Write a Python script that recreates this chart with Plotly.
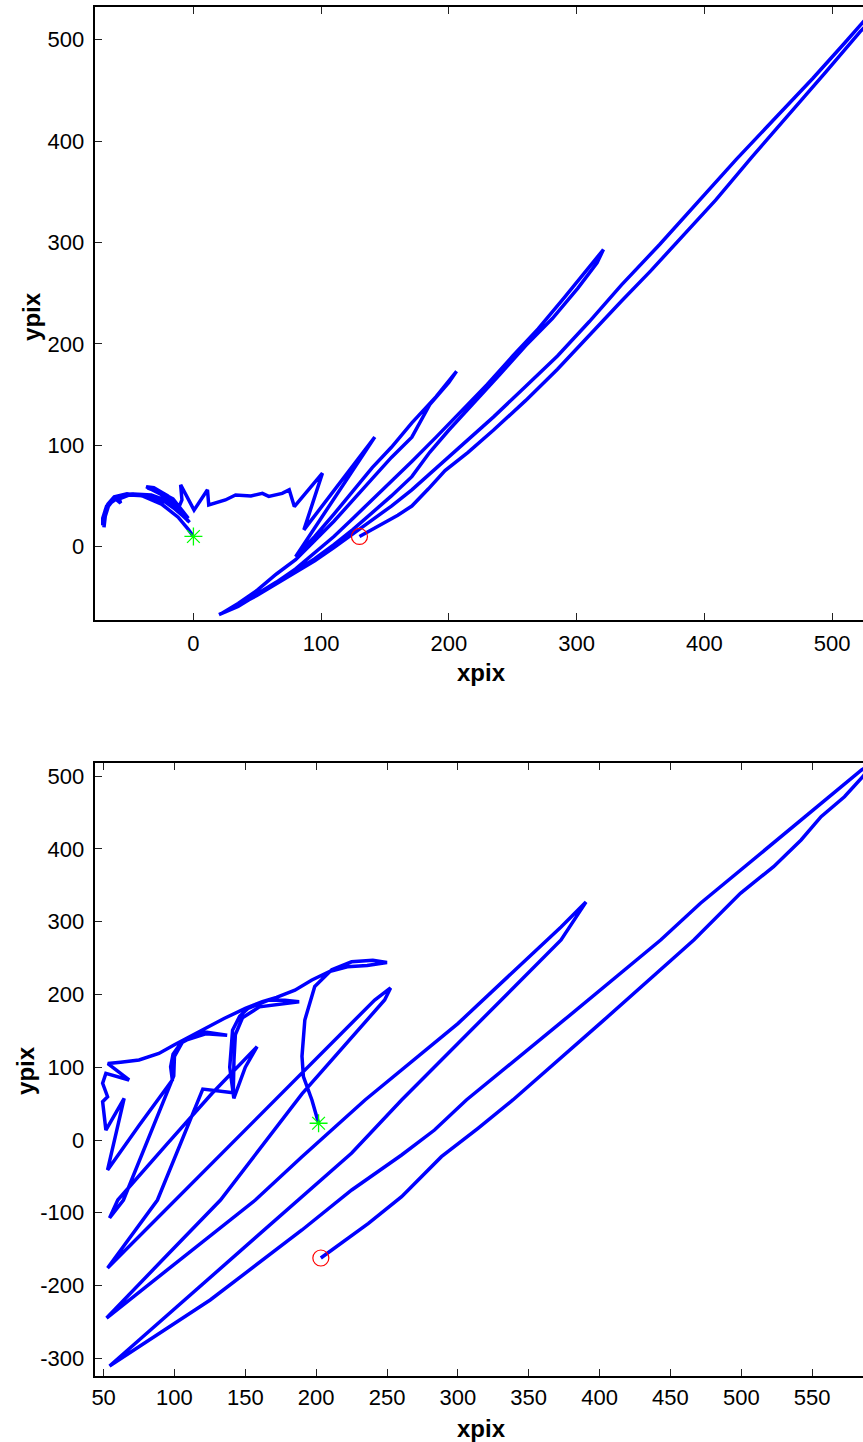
import plotly.graph_objects as go

# ---------------- upper panel: tracked position (pixels) ----------------
top_x = [0, -4, -12, -25, -40, -52, -62, -67, -70, -70, -69, -66, -58, -47, -33, -20, -10, -4,
         -10, -22, -36, -50, -58, -57, -62, -68, -71, -71, -69, -62, -50, -35, -20, -8, -3,
         -14, -26, -37, -31, -20, -9, -4, -16, -28, -36, -22, -11, -9, -10, 0.5, 11, 12, 25, 33,
         45, 54, 59, 69.5, 75, 79, 101, 86.5, 142, 80,
         95, 110, 125, 140, 155, 171, 190, 206,
         200, 185, 171, 155, 140, 125, 110, 95, 80, 65, 50, 35, 22,
         35, 50, 65, 80, 95, 110, 125, 140, 155, 171, 190, 210, 230, 250, 270, 290, 309, 321,
         316, 301, 281, 260, 240, 220, 200, 185, 171, 155, 140, 125, 110, 95, 80, 65, 50, 35, 20,
         35, 50, 65, 80, 95, 110, 125, 140, 155, 171, 189, 210, 235, 260, 285, 310, 335, 365, 396,
         425, 455, 485, 510, 530, 540,
         535, 522, 495, 465, 437, 409, 380, 358, 335, 310, 285, 260, 235, 215, 197, 184, 171, 160,
         150, 140, 130]
top_y = [10, 17, 29, 42, 50, 52, 49, 42, 30, 19, 30, 42, 49, 52, 51, 45, 33, 25,
         33, 44, 50, 51, 47, 43, 48, 40, 28, 21, 36, 47, 51, 50, 43, 30, 24,
         40, 52, 59, 58, 50, 36, 28, 47, 55, 58, 51, 40, 46, 61, 36, 56, 41, 46, 51,
         50, 52.5, 49.5, 52.5, 56, 39.5, 72.5, 16.5, 108, -10,
         10, 32, 55, 78, 98, 122, 148, 173,
         162, 140, 108, 88, 67, 46, 25, 6, -13, -27, -43, -56, -66,
         -58, -47, -35, -22, -6, 10, 28, 46, 65, 84, 108, 134, 160, 188, 215, 245, 275, 293,
         280, 255, 225, 198, 170, 143, 115, 93, 69, 50, 33, 17, 2, -12, -24, -36, -48, -59, -67,
         -58, -48, -37, -26, -14, -1, 13, 26, 40, 56, 76, 100, 128, 158, 188, 222, 258, 298, 342,
         382, 422, 462, 497, 525, 540,
         525, 508, 468, 425, 384, 342, 302, 272, 242, 208, 175, 144, 115, 93, 75, 57, 40, 31,
         24, 17, 10]

# ---------------- lower panel: tracked position (pixels) ----------------
bot_x = [201.7, 197, 191, 190, 192, 199, 211, 225, 240, 250,
         236, 222, 210, 197, 185, 172, 162, 150, 135, 125, 113, 100, 89, 75, 62, 53,
         68, 51.6, 49.3, 52.8, 49.3, 51.6, 64.5, 52.8,
         75, 98.5, 97.3, 99, 104.4, 119.6, 137.2, 122, 106, 100, 99.5,
         64, 54.2,
         60, 95, 126.6, 158.3,
         150, 141.9, 139, 140, 141, 146, 152, 166, 178, 188,
         175, 160, 148, 143, 142, 141.5,
         120, 88, 52.8,
         98.5, 147.7, 197, 241.3, 252.5,
         248.3, 190, 132.5, 91.5, 52.1,
         157.1, 190, 234.5, 300, 372.8, 390.4,
         372.8, 260.3, 225.1, 190, 147.8, 107, 54.2,
         125.2, 190, 225.1, 260.3, 283.5, 306, 375, 443.1, 471.2, 499.4, 525.2, 550.9, 584.9, 595,
         585.7, 572.8, 556.3, 542.2, 522.8, 499.4, 466.5, 402, 338.8, 314.2, 288.4, 260.3, 236.9,
         203.3]
bot_y = [23, 55, 87, 115, 165, 211, 234, 245, 247, 244,
         240, 238, 232, 220, 206, 196, 190, 181, 167, 157, 144, 131, 119, 110, 107, 105,
         82.5, 91.6, 78, 59.5, 52.6, 13.7, 57.3, -41.2,
         20, 82.5, 100.7, 118, 133, 149, 144, 146, 136, 115, 88,
         -82.5, -107.2,
         -82.5, -5, 64.2, 128.3,
         100, 57.3, 100, 125, 151, 170, 181, 192, 192, 190,
         187, 183, 168, 145, 110, 65,
         70, -82.5, -176,
         -86.6, 9.6, 105.8, 192.4, 209,
         192.4, 63.4, -82.5, -165, -244.7,
         -82.5, -23, 55, 160, 292.8, 327,
         274.9, 55, -17.9, -78, -151, -220, -310.6,
         -219.9, -123.7, -68.7, -20.6, 13.7, 55, 165, 274.9, 325.4, 371.1, 412.4, 453.6, 508.6, 522,
         499.3, 471.8, 444.4, 412.4, 375.7, 339.1, 274.9, 163, 55, 16.1, -22.9, -77.9, -114.5,
         -162.2]

# axis settings
top_xrange = [-77.3, 524.2]
top_yrange = [-72.4, 532.3]
top_xticks = [0, 100, 200, 300, 400, 500]
top_yticks = [0, 100, 200, 300, 400, 500]
bot_xrange = [43.7, 585.9]
bot_yrange = [-324.4, 518.2]
bot_xticks = [50, 100, 150, 200, 250, 300, 350, 400, 450, 500, 550]
bot_yticks = [-300, -200, -100, 0, 100, 200, 300, 400, 500]

W, H = 863, 1442
BLUE = '#0000FF'
FONT = 'Liberation Sans, Arial, sans-serif'

fig = go.Figure()


def add_panel(xs, ys, xa, ya):
    fig.add_trace(go.Scatter(x=xs, y=ys, mode='lines', xaxis=xa, yaxis=ya,
                             line=dict(color=BLUE, width=3.5), hoverinfo='skip'))
    fig.add_trace(go.Scatter(x=[xs[0]], y=[ys[0]], mode='markers', xaxis=xa, yaxis=ya,
                             marker=dict(symbol='asterisk-open', size=15,
                                         color='#00FF00', line=dict(color='#00FF00', width=1.3))))
    fig.add_trace(go.Scatter(x=[xs[-1]], y=[ys[-1]], mode='markers', xaxis=xa, yaxis=ya,
                             marker=dict(symbol='circle-open', size=16,
                                         color='#FF0000', line=dict(color='#FF0000', width=1.2))))


add_panel(top_x, top_y, 'x', 'y')
add_panel(bot_x, bot_y, 'x2', 'y2')

x_dom = [92 / W, 1.0]
top_dom = [1 - 620 / H, 1 - 7 / H]
bot_dom = [1 - 1376 / H, 1 - 763 / H]

axis_common = dict(showgrid=False, zeroline=False, showline=True, linecolor='black',
                   linewidth=2, ticks='inside', ticklen=7, tickwidth=1.2, tickcolor='#222',
                   tickfont=dict(family=FONT, size=22, color='black'))


def labels(vals):
    return [str(v) for v in vals]  # plain hyphen for negatives


fig.update_layout(
    width=W, height=H, margin=dict(l=0, r=0, t=0, b=0),
    paper_bgcolor='white', plot_bgcolor='white', showlegend=False,
    xaxis=dict(domain=x_dom, range=top_xrange, tickvals=top_xticks, ticktext=labels(top_xticks),
               anchor='y', mirror='ticks', ticklabelstandoff=3, **axis_common),
    yaxis=dict(domain=top_dom, range=top_yrange, tickvals=top_yticks, ticktext=labels(top_yticks),
               anchor='x', ticklabelstandoff=4, **axis_common),
    xaxis2=dict(domain=x_dom, range=bot_xrange, tickvals=bot_xticks, ticktext=labels(bot_xticks),
                anchor='y2', mirror='ticks', ticklabelstandoff=1, **axis_common),
    yaxis2=dict(domain=bot_dom, range=bot_yrange, tickvals=bot_yticks, ticktext=labels(bot_yticks),
                anchor='x2', ticklabelstandoff=4, **axis_common),
)

title_font = dict(family=FONT, size=24, color='black')
for txt, x, y, ang in [('xpix', 480, 672, 0), ('ypix', 28, 316, -90),
                       ('xpix', 480, 1428, 0), ('ypix', 22, 1070, -90)]:
    fig.add_annotation(text='<b>%s</b>' % txt, x=x / W, y=1 - y / H, xref='paper', yref='paper',
                       showarrow=False, textangle=ang, font=title_font,
                       xanchor='center', yanchor='middle')

fig.write_html('out.html')
